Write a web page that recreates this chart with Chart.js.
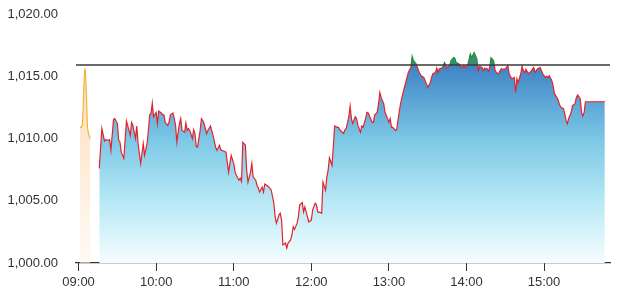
<!DOCTYPE html>
<html>
<head>
<meta charset="utf-8">
<script src="https://cdn.jsdelivr.net/npm/chart.js@4.4.1/dist/chart.umd.min.js"></script>
<style>
html,body{margin:0;padding:0;background:#fff;}
#wrap{width:617px;height:302px;position:relative;}
</style>
</head>
<body>
<div id="wrap"><canvas id="c"></canvas></div>
<script>
// ---- data ----
const hourTicks = ["09:00","10:00","11:00","12:00","13:00","14:00","15:00"];
const yTicks = [1000, 1005, 1010, 1015, 1020];
const refValue = 1015.9; // previous close (horizontal line)

const preTimes = ["09:01","09:02","09:03","09:04","09:05","09:06","09:07","09:08","09:09"];
const preValues = [1010.9,1010.9,1011.2,1014.0,1015.6,1013.6,1010.8,1010.3,1010.0];

const mainTimes = [
"09:16","09:18","09:20","09:21","09:23","09:24","09:25","09:27","09:28","09:30",
"09:31","09:32","09:33","09:35","09:37","09:39","09:40","09:41","09:42","09:44",
"09:45","09:46","09:48","09:50","09:51","09:53","09:54","09:55","09:56","09:57",
"09:58","10:00","10:01","10:02","10:04","10:05","10:06","10:07","10:09","10:10",
"10:11","10:13","10:14","10:15","10:16","10:17","10:18","10:19","10:20","10:22",
"10:23","10:24","10:25","10:26","10:28","10:29","10:30","10:31","10:32","10:34",
"10:35","10:36","10:37","10:39","10:40","10:42","10:44","10:46","10:47","10:49",
"10:50","10:52","10:54","10:55","10:56","10:58","11:00","11:01","11:02","11:04",
"11:05","11:06","11:07","11:09","11:10","11:11","11:13","11:14","11:15","11:17",
"11:18","11:19","11:20","11:22","11:23","11:24","11:26","11:27","11:28","11:29",
"11:31","11:32","11:33","11:35","11:36","11:37","11:38","11:40","11:41","11:42",
"11:44","11:45","11:46","11:47","11:49","11:50","11:51","11:53","11:54","11:55",
"11:56","11:58","12:00","12:01","12:03","12:04","12:05","12:07","12:08","12:09",
"12:11","12:12","12:13","12:14","12:16","12:17","12:18","12:20","12:21","12:22",
"12:24","12:25","12:26","12:27","12:29","12:30","12:31","12:32","12:34","12:35",
"12:36","12:38","12:39","12:40","12:42","12:43","12:44","12:45","12:47","12:48",
"12:49","12:51","12:52","12:53","12:54","12:56","12:57","12:58","13:00","13:01",
"13:02","13:03","13:05","13:06","13:07","13:09","13:11","13:14","13:15","13:17",
"13:18","13:19","13:21","13:23","13:24","13:25","13:27","13:28","13:29","13:30",
"13:32","13:33","13:34","13:36","13:37","13:38","13:39","13:41","13:42","13:43",
"13:45","13:46","13:47","13:48","13:50","13:51","13:52","13:54","13:55","13:56",
"13:58","13:59","14:00","14:01","14:03","14:04","14:05","14:06","14:08","14:09",
"14:10","14:12","14:13","14:14","14:16","14:17","14:18","14:19","14:21","14:22",
"14:23","14:25","14:26","14:27","14:28","14:30","14:32","14:33","14:35","14:37",
"14:38","14:39","14:40","14:42","14:43","14:44","14:45","14:46","14:48","14:49",
"14:50","14:52","14:53","14:54","14:55","14:57","14:58","14:59","15:01","15:02",
"15:03","15:04","15:06","15:07","15:08","15:10","15:11","15:12","15:13","15:15",
"15:16","15:17","15:18","15:19","15:21","15:22","15:24","15:25","15:26","15:28",
"15:29","15:30","15:31","15:32","15:47"
];
const mainValues = [
1007.6,1010.8,1009.8,1009.9,1009.85,1009.9,1009.05,1011.5,1011.6,1011.2,
1009.85,1009.7,1008.9,1008.4,1011.4,1010.65,1010.25,1011.3,1011.05,1010.0,
1011.0,1009.6,1008.0,1009.6,1008.65,1009.6,1010.65,1011.9,1012.0,1012.85,
1011.75,1012.1,1011.2,1012.2,1012.05,1011.9,1011.9,1011.3,1011.05,1011.3,
1011.9,1012.05,1011.6,1011.05,1009.7,1010.5,1011.2,1011.6,1010.65,1010.5,
1011.25,1010.65,1010.8,1010.65,1010.0,1010.7,1010.4,1009.35,1009.3,1010.65,
1011.6,1011.45,1011.2,1010.4,1010.65,1011.0,1010.25,1009.3,1009.05,1009.45,
1009.1,1009.0,1008.9,1008.1,1007.3,1008.65,1008.0,1007.3,1007.05,1006.65,
1006.8,1006.55,1009.7,1009.45,1007.45,1006.5,1007.3,1008.0,1006.9,1006.65,
1006.25,1006.0,1005.7,1006.1,1005.7,1006.35,1006.2,1006.1,1006.0,1005.85,
1004.8,1003.7,1003.2,1003.85,1004.0,1003.45,1001.45,1001.6,1001.2,1001.6,
1001.85,1002.25,1002.9,1002.7,1003.2,1003.7,1004.65,1004.85,1004.1,1004.5,
1004.1,1003.3,1003.45,1004.25,1004.8,1004.65,1004.1,1004.05,1004.0,1006.5,
1005.85,1006.9,1007.45,1008.45,1007.85,1009.3,1011.0,1010.9,1010.9,1010.7,
1010.5,1010.4,1010.7,1010.8,1011.75,1012.6,1011.6,1011.2,1011.75,1011.6,
1011.05,1010.5,1011.0,1010.9,1011.6,1012.1,1012.05,1011.8,1011.3,1011.3,
1011.9,1012.1,1012.8,1013.7,1013.3,1012.8,1012.1,1011.85,1011.3,1011.6,
1010.9,1010.9,1010.65,1010.7,1011.45,1012.8,1013.7,1014.9,1015.3,1015.7,
1016.6,1016.25,1016.0,1015.45,1015.2,1015.05,1014.9,1014.65,1014.4,1014.1,
1014.5,1014.9,1015.2,1015.3,1015.65,1015.3,1015.6,1015.65,1015.85,1016.1,
1015.65,1015.8,1015.85,1016.25,1016.5,1016.45,1016.1,1016.0,1015.85,1015.7,
1015.85,1015.7,1015.8,1015.9,1016.8,1016.5,1016.7,1016.9,1016.4,1015.45,
1015.8,1015.7,1015.45,1015.65,1015.6,1015.4,1015.7,1016.5,1016.25,1015.55,
1015.3,1015.2,1015.45,1015.6,1015.55,1015.6,1015.85,1015.2,1014.8,1014.9,
1013.7,1014.8,1014.5,1015.2,1015.8,1015.45,1015.3,1015.55,1015.2,1015.3,
1015.4,1015.7,1015.3,1015.45,1015.6,1015.7,1015.45,1015.2,1014.9,1015.0,
1014.9,1015.05,1014.65,1014.25,1013.6,1013.3,1013.05,1012.7,1012.5,1012.4,
1012.0,1011.45,1011.2,1011.6,1012.1,1012.65,1012.8,1013.3,1013.5,1013.2,
1012.1,1011.8,1012.1,1012.95,1012.95
];

// axis range (minutes after 09:00)
const axisStart = "08:58";
const axisEnd = "15:51";

// ---- helpers ----
function toMin(t){ const p=t.split(":"); return (parseInt(p[0],10)-9)*60 + parseInt(p[1],10); }
function toLabel(v){ const h=9+Math.floor(v/60), m=v%60; return String(h).padStart(2,"0")+":"+String(m).padStart(2,"0"); }

const xMin = toMin(axisStart), xMax = toMin(axisEnd);
const preData = preTimes.map((t,i)=>({x:toMin(t), y:preValues[i]}));
const mainData = mainTimes.map((t,i)=>({x:toMin(t), y:mainValues[i]}));
const refData = [{x:xMin,y:refValue},{x:xMax,y:refValue}];

function refFrac(chart){
  const a = chart.chartArea, y = chart.scales.y;
  return Math.min(1, Math.max(0, (y.getPixelForValue(refValue) - a.top)/(a.bottom - a.top)));
}
function lineGrad(ctx){
  const chart = ctx.chart, a = chart.chartArea;
  if(!a) return '#e3232b';
  const p = refFrac(chart);
  const g = chart.ctx.createLinearGradient(0,a.top,0,a.bottom);
  g.addColorStop(0,'#1f8f2f'); g.addColorStop(p,'#1f8f2f');
  g.addColorStop(p,'#e3232b'); g.addColorStop(1,'#e3232b');
  return g;
}
function fillGrad(ctx){
  const chart = ctx.chart, a = chart.chartArea;
  if(!a) return 'rgba(120,200,230,0.6)';
  const p = refFrac(chart);
  const g = chart.ctx.createLinearGradient(0,a.top,0,a.bottom);
  g.addColorStop(0,'#3f8a76'); g.addColorStop(p,'#3f8a76');
  g.addColorStop(p,'#3e84c5');
  g.addColorStop(Math.min(1,p+0.3),'#7cc8e6');
  g.addColorStop(Math.min(1,p+0.55),'#b7e8f5');
  g.addColorStop(1,'#f6feff');
  return g;
}
function preFill(ctx){
  const chart = ctx.chart, a = chart.chartArea;
  if(!a) return 'rgba(253,228,200,0.8)';
  const g = chart.ctx.createLinearGradient(0,a.top,0,a.bottom);
  g.addColorStop(0,'rgba(252,215,170,0.9)');
  g.addColorStop(0.45,'rgba(253,226,196,0.9)');
  g.addColorStop(1,'rgba(255,246,236,0.6)');
  return g;
}

Chart.defaults.font.family = "'Liberation Sans', Arial, Helvetica, sans-serif";
Chart.defaults.font.size = 13;
Chart.defaults.color = '#333';

new Chart(document.getElementById('c'), {
  type: 'line',
  data: {
    datasets: [
      { data: refData, borderColor:'#3a3a3a', borderWidth:1.5, pointRadius:0, fill:false, order:0 },
      { data: mainData, borderColor: lineGrad, backgroundColor: fillGrad, borderWidth:1.2,
        pointRadius:0, fill:'start', tension:0, order:1 },
      { data: preData, borderColor:'#f4b23a', backgroundColor: preFill, borderWidth:1.2,
        pointRadius:0, fill:'start', tension:0.4, order:2 }
    ]
  },
  options: {
    responsive: true,
    maintainAspectRatio: false,
    animation: false,
    layout: { padding: { top: 14, right: 7, bottom: 0, left: 0 } },
    plugins: { legend:{display:false}, tooltip:{enabled:false} },
    scales: {
      x: {
        type: 'linear', min: xMin, max: xMax,
        afterBuildTicks: s => { s.ticks = hourTicks.map(t=>({value:toMin(t)})); },
        afterFit: s => { s.height = 39; },
        ticks: { callback: v => toLabel(v), padding: 4, maxRotation:0, autoSkip:false },
        grid: { drawOnChartArea:false, drawTicks:true, tickLength:8, color:'#333', lineWidth:1 },
        border: { display:true, color:'#333', width:1.2 }
      },
      y: {
        min: 1000, max: 1020,
        afterBuildTicks: s => { s.ticks = yTicks.map(v=>({value:v})); },
        afterFit: s => { s.width = 76; s.paddingTop = 0; s.paddingBottom = 0; },
        ticks: { callback: v => v.toLocaleString('en-US',{minimumFractionDigits:2, maximumFractionDigits:2}), padding: 18 },
        grid: { display:false, drawTicks:false },
        border: { display:false }
      }
    }
  }
});
</script>
</body>
</html>
